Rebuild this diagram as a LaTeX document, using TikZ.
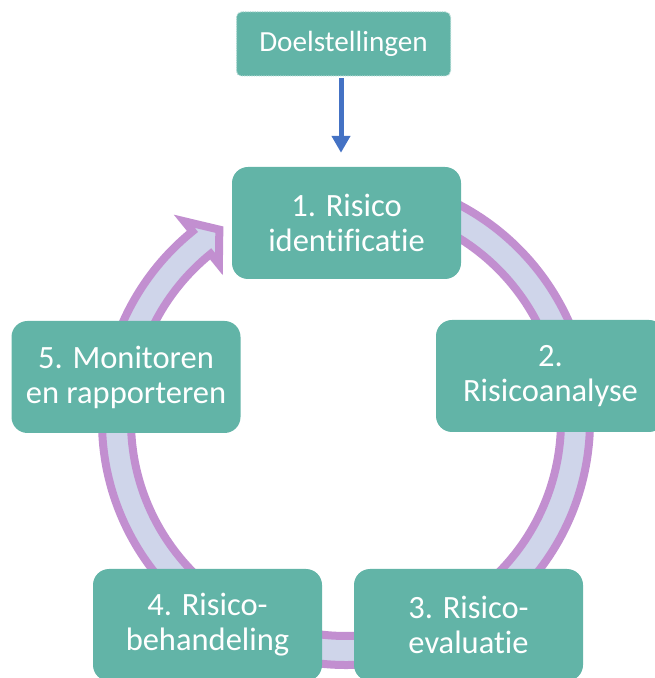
\documentclass[tikz,border=0pt]{standalone}
\usepackage{fontspec}
\setmainfont{Carlito}[Ligatures=NoCommon]
\usetikzlibrary{arrows.meta,calc}
\definecolor{boxteal}{HTML}{62B4A7}
\definecolor{ringfill}{HTML}{CFD5EA}
\definecolor{ringline}{HTML}{C28FD0}
\definecolor{flowblue}{HTML}{4472C4}
\begin{document}
\begin{tikzpicture}[x=1pt,y=1pt,
  stepbox/.style={fill=boxteal, rounded corners=16pt, minimum width=229pt,
    minimum height=112pt, inner sep=0pt, align=center, text=white,
    font=\fontsize{32.5}{35}\selectfont},
  goalbox/.style={fill=boxteal, draw=boxteal!55!white,
    dash pattern=on 1.2pt off 1.2pt, line width=1pt, rounded corners=5pt,
    minimum width=214pt, minimum height=64pt, inner sep=0pt, text=white,
    font=\fontsize{29.2}{34}\selectfont},
  ring/.style={fill=ringfill, draw=ringline, line width=8pt, line join=miter},
  flow/.style={draw=flowblue, line width=5pt, -{Triangle[length=17pt,width=18pt]}}]
\useasboundingbox (0,0) rectangle (655,678);
\clip (0,0) rectangle (655,678);

% circular arrow behind the cycle steps
\coordinate (C) at (346,257);
\draw[ring] ($(C)+(85:244)$) arc[start angle=85, end angle=-231, radius=244]
  -- ($(C)+(-231:257)$) -- ($(C)+(-236.5:229.5)$) -- ($(C)+(-231:202)$)
  -- ($(C)+(-231:215)$) arc[start angle=-231, end angle=85, radius=215] -- cycle;

% steps of the cycle
\node[stepbox] (B1) at (346.5,455) {1. Risico\\identificatie};
\node[stepbox] (B2) at (550.5,302) {2.\\Risicoanalyse};
\node[stepbox] (B3) at (468.5,53) {3. Risico-\\evaluatie};
\node[stepbox] (B4) at (207.5,53) {4. Risico-\\behandeling};
\node[stepbox] (B5) at (126,301) {5. Monitoren\\en rapporteren};

% objectives feeding the first step
\node[goalbox] (D) at (343.5,634) {Doelstellingen};
\draw[flow] ([xshift=-2.5pt,yshift=-2pt]D.south) -- ([xshift=-5.5pt,yshift=14pt]B1.north);
\end{tikzpicture}
\end{document}
